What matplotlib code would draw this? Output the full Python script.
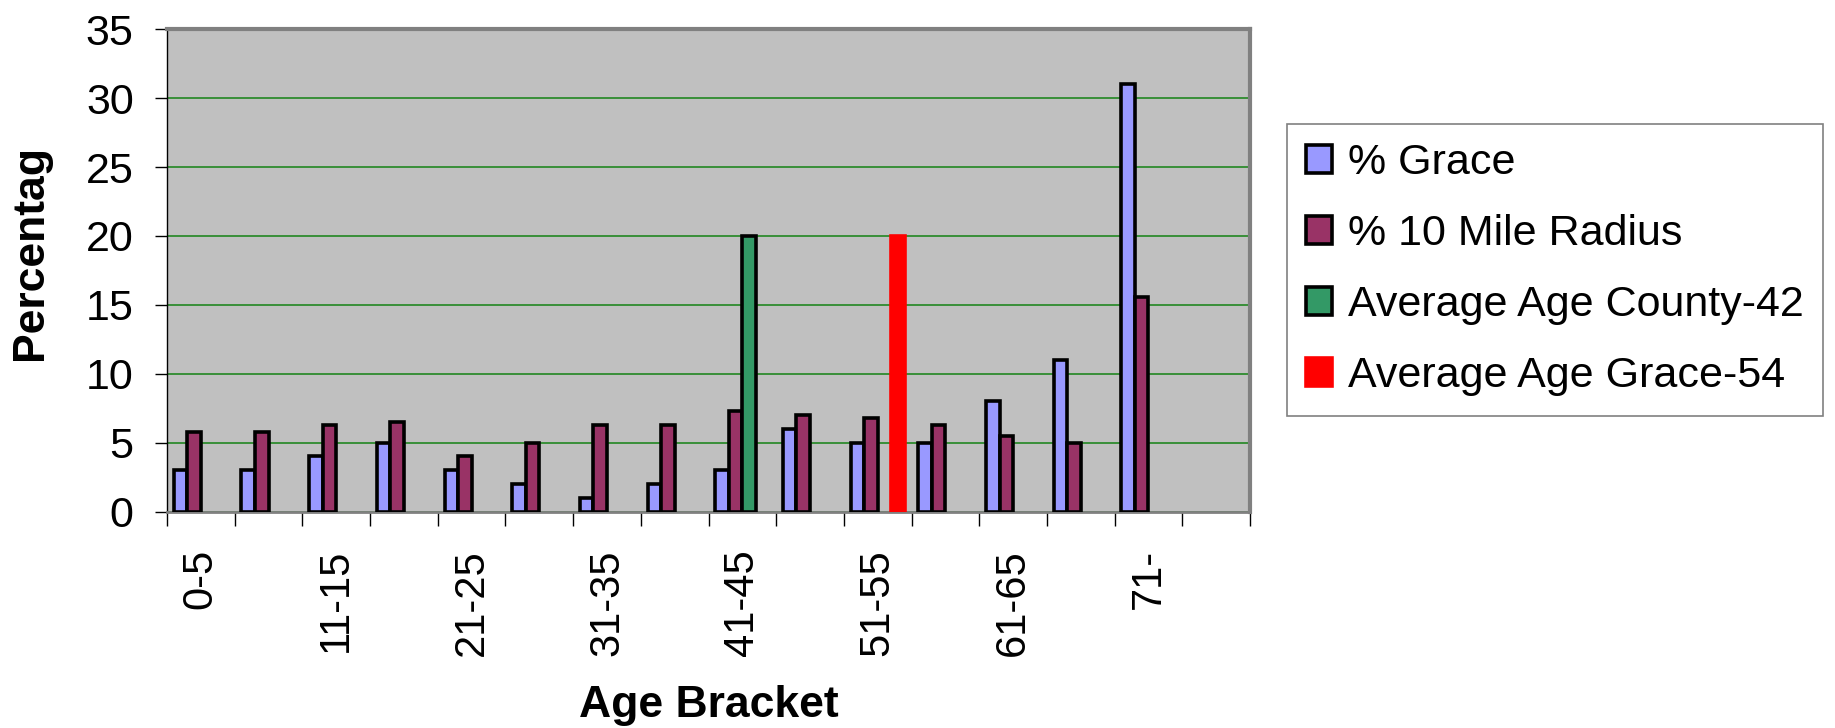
import numpy as np
import matplotlib
matplotlib.use("Agg")
import matplotlib.pyplot as plt

plt.rcParams['font.family'] = ['Liberation Sans', 'DejaVu Sans']

# age brackets (last slot is an empty category in the source sheet)
categories = ['0-5', '6-10', '11-15', '16-20', '21-25', '26-30', '31-35', '36-40',
              '41-45', '46-50', '51-55', '56-60', '61-65', '66-70', '71-', '']
# only every other bracket gets a label on the axis
shown_labels = ['0-5', '', '11-15', '', '21-25', '', '31-35', '',
                '41-45', '', '51-55', '', '61-65', '', '71-', '']

nan = np.nan
grace = [3, 3, 4, 5, 3, 2, 1, 2, 3, 6, 5, 5, 8, 11, 31, nan]
radius10 = [5.8, 5.8, 6.3, 6.5, 4, 5, 6.3, 6.3, 7.3, 7, 6.8, 6.3, 5.5, 5, 15.6, nan]
avg_county = [nan, nan, nan, nan, nan, nan, nan, nan, 20, nan, nan, nan, nan, nan, nan, nan]
avg_grace = [nan, nan, nan, nan, nan, nan, nan, nan, nan, nan, 20, nan, nan, nan, nan, nan]

series = [
    ('% Grace', grace, '#9999FF', 'black'),
    ('% 10 Mile Radius', radius10, '#993366', 'black'),
    ('Average Age County-42', avg_county, '#339966', 'black'),
    ('Average Age Grace-54', avg_grace, '#FF0000', '#FF0000'),
]

fig = plt.figure(figsize=(18.35, 7.28), dpi=100)
ax = fig.add_axes([167/1835, 1 - 511.5/728, (1250 - 167)/1835, (511.5 - 29.3)/728])
ax.set_facecolor('#C0C0C0')

x = np.arange(len(categories))
w = 0.2
offsets = [-1.5 * w, -0.5 * w, 0.5 * w, 1.5 * w]
for (name, vals, col, edge), off in zip(series, offsets):
    ax.bar(x + off, vals, width=w, color=col, edgecolor=edge, linewidth=2.6,
           label=name, zorder=3)

ax.set_xlim(-0.5, len(categories) - 0.5)
ax.set_ylim(0, 35)
ax.set_yticks(np.arange(0, 36, 5))
ax.yaxis.grid(True, color='#2E8B2E', linewidth=1.3)
ax.set_axisbelow(True)

# labels at centres, tick marks at category boundaries
ax.set_xticks(x)
ax.set_xticklabels(shown_labels, rotation=90, fontsize=30, va='top')
ax.tick_params(axis='x', which='major', length=0, pad=27)
ax.set_xticks(np.arange(-0.5, len(categories)), minor=True)
ax.tick_params(axis='x', which='minor', length=10, width=1, color='black')
ax.tick_params(axis='y', labelsize=31, length=9, width=1, pad=15)

for side in ['top', 'right']:
    ax.spines[side].set_color('#808080')
    ax.spines[side].set_linewidth(3)
ax.spines['bottom'].set_color('#808080')
ax.spines['bottom'].set_linewidth(2)
ax.spines['left'].set_color('black')
ax.spines['left'].set_linewidth(1)

ax.set_ylabel('Percentag', fontsize=32, fontweight='bold')
ax.yaxis.set_label_coords(-0.107, 0.538)
ax.set_xlabel('Age Bracket', fontsize=32, fontweight='bold')
ax.xaxis.set_label_coords(0.5, -0.36)

leg = ax.legend(loc='upper left', bbox_to_anchor=(1287/1835, 1 - 124/728),
                bbox_transform=fig.transFigure, fontsize=31, frameon=True,
                fancybox=False, edgecolor='#808080', framealpha=1,
                handlelength=0.6, handleheight=0.63, handletextpad=0.37,
                borderpad=0.45, labelspacing=0.72, borderaxespad=0)
leg.get_frame().set_linewidth(1.2)

fig.savefig('out.png', dpi=100, facecolor='white')
